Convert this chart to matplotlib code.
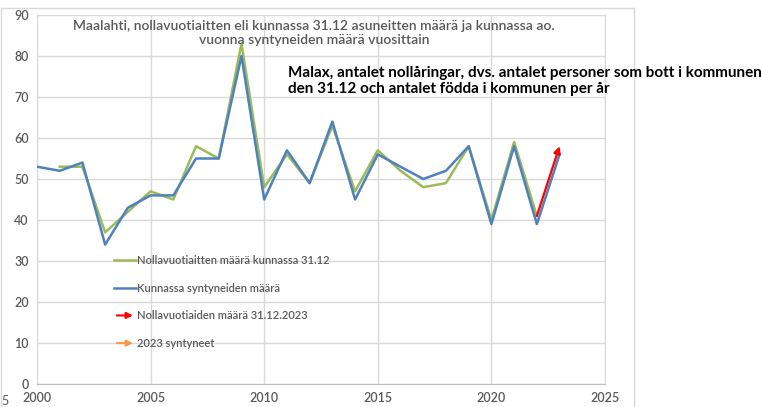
import matplotlib
matplotlib.use("Agg")
import matplotlib.pyplot as plt
from matplotlib.lines import Line2D
from matplotlib.patches import FancyArrowPatch, Rectangle
from matplotlib.legend_handler import HandlerBase

plt.rcParams['font.family'] = ['Lato', 'DejaVu Sans']

# Kunnassa syntyneet (sininen), 2000-2023
birth_years = list(range(2000, 2024))
births = [53, 52, 54, 34, 43, 46, 46, 55, 55, 80, 45, 57, 49, 64, 45, 56,
          53, 50, 52, 58, 39, 58, 39, 56]

# Nollavuotiaat 31.12 (vihreä), 2001-2022
zero_years = list(range(2001, 2023))
zero_olds = [53, 53, 37, 42, 47, 45, 58, 55, 83, 48, 56, 49, 63, 47, 57, 52,
             48, 49, 58, 40, 59, 41]

# Punainen nuoli: nollavuotiaat 31.12.2023
arrow_years = [2022, 2023]
arrow_vals = [41, 58]

x_ticks = [2000, 2005, 2010, 2015, 2020, 2025]
y_ticks = [0, 10, 20, 30, 40, 50, 60, 70, 80, 90]

GREEN = '#9bbb59'
BLUE = '#4f81bd'
RED = '#ff0000'
ORANGE = '#f79646'
GREY = '#595959'


class ArrowHandler(HandlerBase):
    def create_artists(self, legend, orig_handle, xdescent, ydescent,
                       width, height, fontsize, trans):
        y = height / 2 - ydescent
        a = FancyArrowPatch((-xdescent, y), (width - xdescent, y),
                            arrowstyle='-|>', mutation_scale=9,
                            color=orig_handle.get_color(), lw=1.5,
                            transform=trans)
        return [a]


fig = plt.figure(figsize=(7.61, 4.07), dpi=100)
ax = fig.add_axes([37 / 761, 1 - 384 / 407, (605 - 37) / 761, (384 - 15) / 407])

# kaavion reunus
fig.add_artist(Rectangle((1 / 761, -0.05), 633 / 761, 1.05 - 8 / 407,
                         transform=fig.transFigure, fill=False,
                         edgecolor='#d9d9d9', lw=1))

ax.plot(zero_years, zero_olds, color=GREEN, lw=1.8, zorder=3)
ax.plot(birth_years, births, color=BLUE, lw=1.8, zorder=4)
ax.annotate('', xy=(arrow_years[1], arrow_vals[1]),
            xytext=(arrow_years[0], arrow_vals[0]),
            arrowprops=dict(arrowstyle='-|>', color=RED, lw=1.6,
                            mutation_scale=10, shrinkA=0, shrinkB=0),
            zorder=5)

ax.set_xlim(2000, 2025)
ax.set_ylim(0, 90)
ax.set_xticks(x_ticks)
ax.set_yticks(y_ticks)
ax.grid(True, color='#d9d9d9', lw=1)
ax.set_axisbelow(True)
for s in ['top', 'right', 'left']:
    ax.spines[s].set_color('#d9d9d9')
ax.spines['bottom'].set_color('#bfbfbf')
ax.tick_params(length=0, labelsize=9, labelcolor=GREY, pad=6)
for lab in ax.get_xticklabels() + ax.get_yticklabels():
    lab.set_fontweight('semibold')

handles = [Line2D([], [], color=GREEN, lw=1.8),
           Line2D([], [], color=BLUE, lw=1.8),
           Line2D([], [], color=RED),
           Line2D([], [], color=ORANGE)]
labels = ['Nollavuotiaitten määrä kunnassa 31.12',
          'Kunnassa syntyneiden määrä',
          'Nollavuotiaiden määrä 31.12.2023',
          '2023 syntyneet']
leg = ax.legend(handles, labels, loc='upper left',
                bbox_to_anchor=(114 / 761, 1 - 255 / 407),
                bbox_transform=fig.transFigure, frameon=False,
                fontsize=8, labelspacing=1.5, handlelength=1.95,
                handletextpad=0.15, borderpad=0, borderaxespad=0,
                handler_map={handles[2]: ArrowHandler(),
                             handles[3]: ArrowHandler()})
for t in leg.get_texts():
    t.set_color(GREY)
    t.set_fontweight('semibold')

fig.text(314 / 761, 1 - 33 / 407,
         'Maalahti, nollavuotiaitten eli kunnassa 31.12 asuneitten määrä ja kunnassa ao.\n'
         'vuonna syntyneiden määrä vuosittain',
         ha='center', va='center', fontsize=10, color=GREY,
         fontweight='semibold', linespacing=1.25)

fig.text(288 / 761, 1 - 81 / 407,
         'Malax, antalet nollåringar, dvs. antalet personer som bott i kommunen\n'
         'den 31.12 och antalet födda i kommunen per år',
         ha='left', va='center', fontsize=11, color='black',
         fontweight='bold', linespacing=1.15)

fig.text(1 / 761, 1 - 401 / 407, '5', ha='left', va='center', fontsize=9,
         color=GREY)

fig.savefig('out.png', dpi=100)
